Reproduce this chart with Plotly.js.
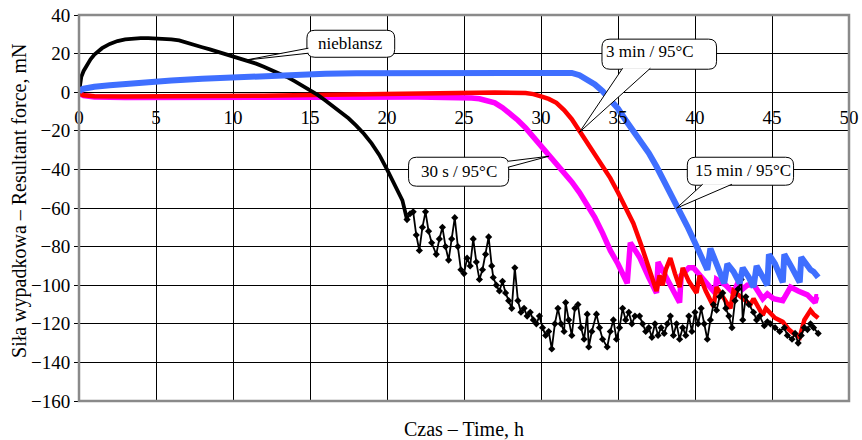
<!DOCTYPE html>
<html>
<head>
<meta charset="utf-8">
<script src="https://cdn.plot.ly/plotly-3.0.1.min.js"></script>
<style>html,body{margin:0;padding:0;background:#fff;}#chart{width:862px;height:440px;}</style>
</head>
<body>
<div id="chart"></div>
<script>
// ---- data (time in h, force in mN) ----
const timeNieblansz = [
  0, 0.05, 0.15, 0.3, 0.5, 0.75, 1, 1.5, 2, 2.5,
  3, 3.5, 4, 4.5, 5, 5.5, 6, 6.5, 7, 7.5,
  8, 8.5, 9, 9.5, 10, 10.5, 11, 11.5, 12, 12.5,
  13, 13.5, 14, 14.5, 15, 15.5, 16, 16.5, 17, 17.5,
  18, 18.5, 19, 19.5, 20, 20.5, 21, 21.3, 21.5, 21.7,
  21.9, 22.1, 22.3, 22.5, 22.7, 22.9, 23.2, 23.4, 23.6, 23.8,
  24.0, 24.2, 24.4, 24.6, 24.8, 25.0, 25.2, 25.4, 25.6, 25.8,
  26.0, 26.2, 26.4, 26.6, 26.8, 26.9, 27.1, 27.3, 27.5, 27.7,
  27.9, 28.1, 28.3, 28.5, 28.7, 28.9, 29.1, 29.3, 29.5, 29.7,
  29.9, 30.1, 30.3, 30.5, 30.7, 30.9, 31.1, 31.3, 31.5, 31.6,
  31.8, 32.0, 32.2, 32.4, 32.6, 32.8, 33.0, 33.1, 33.3, 33.6,
  33.8, 34.0, 34.3, 34.5, 34.7, 34.9, 35.1, 35.3, 35.5, 35.7,
  35.9, 36.1, 36.4, 36.6, 36.8, 37.0, 37.2, 37.4, 37.6, 37.8,
  38.0, 38.2, 38.4, 38.6, 38.8, 39.0, 39.2, 39.4, 39.6, 39.8,
  40.0, 40.2, 40.4, 40.6, 40.8, 41.0, 41.2, 41.4, 41.6, 41.8,
  42.0, 42.2, 42.4, 42.6, 42.8, 43.0, 43.1, 43.3, 43.5, 43.8,
  44.0, 44.2, 44.5, 44.7, 44.9, 45.2, 45.5, 45.8, 46.0, 46.3,
  46.5, 46.7, 46.9, 47.1, 47.3, 47.5, 47.7, 48.0
];
const forceNieblansz = [
  0, 4, 8, 11, 14, 17, 19.5, 22.8, 25, 26.5,
  27.4, 27.8, 28, 28, 27.9, 27.7, 27.4, 26.8, 25.8, 24.6,
  23.3, 22.2, 21, 19.8, 18.6, 17.4, 16.2, 14.8, 13.2, 11.6,
  9.9, 7.9, 5.7, 3.4, 1.1, -1.4, -4.3, -7.2, -10.2, -13.5,
  -17.3, -21.5, -26.5, -32.5, -40, -48.5, -56, -66, -63, -62,
  -74, -82, -70, -62, -72, -78, -84, -76, -70, -80,
  -87, -76, -65, -80, -92, -94, -86, -90, -76, -88,
  -97, -92, -84, -75, -90, -96, -100, -103, -98, -104,
  -108, -112, -91, -108, -114, -112, -116, -114, -118, -120,
  -116, -122, -126, -124, -133, -120, -112, -120, -124, -109,
  -118, -126, -112, -110, -122, -128, -115, -132, -124, -115,
  -122, -128, -132, -124, -118, -128, -122, -112, -118, -114,
  -120, -116, -116, -120, -124, -122, -127, -120, -126, -122,
  -125, -120, -116, -126, -120, -128, -122, -126, -116, -124,
  -114, -120, -112, -120, -128, -118, -110, -113, -106, -104,
  -112, -116, -122, -108, -102, -97, -118, -106, -110, -114,
  -118, -116, -121, -119, -120, -122, -124, -122, -126, -128,
  -125, -130, -126, -122, -123, -120, -122, -125
];

const time15min = [
  0, 0.1, 0.3, 0.6, 1, 2, 3, 4, 5, 6,
  8, 10, 12, 14, 16, 18, 20, 22, 25, 28,
  30, 31, 31.5, 32, 32.5, 33, 33.5, 34, 34.5, 35,
  35.5, 36, 36.5, 37, 37.5, 38, 38.5, 39, 39.5, 40,
  40.5, 40.8, 41.0, 41.5, 41.9, 42.1, 42.5, 42.9, 43.1, 43.5,
  43.8, 44.0, 44.4, 44.7, 44.8, 45.2, 45.7, 45.8, 46.3, 46.8,
  46.9, 47.3, 47.5, 47.7, 48.0
];
const force15min = [
  0, 1.2, 1.8, 2.3, 2.8, 3.6, 4.3, 5, 5.6, 6.1,
  7, 7.8, 8.5, 9.1, 9.5, 9.8, 9.9, 10, 10.2, 10.3,
  10.4, 10.4, 10.3, 10, 8.8, 6.5, 4, 0.5, -4, -8.5,
  -14.5, -20, -25.5, -31.5, -38.5, -46, -54, -61.5, -69.5, -78,
  -86, -92, -81, -90, -99, -89, -93, -99, -91, -96,
  -101, -90, -96, -100, -84, -89, -98.5, -84, -91, -98.5,
  -85.5, -90, -92, -93, -96
];

const time3min = [
  0, 0.1, 0.3, 0.6, 1, 3, 6, 9, 12, 15,
  18, 21, 24, 27, 29, 29.5, 30, 30.5, 31, 31.5,
  32, 32.5, 33, 33.5, 34, 34.5, 35, 35.5, 36, 36.5,
  37, 37.5, 37.7, 37.9, 38.1, 38.4, 38.7, 39.0, 39.2, 39.6,
  40.1, 40.3, 40.7, 41.2, 41.4, 41.8, 42.3, 42.5, 43.0, 43.6,
  43.8, 44.4, 44.6, 45.2, 45.7, 46.1, 46.4, 46.8, 47.1, 47.5,
  47.7, 48
];
const force3min = [
  0, -1, -1.6, -2, -2.1, -2.2, -2.2, -2, -1.8, -1.5,
  -1.1, -0.7, -0.4, -0.2, -0.4, -1, -2.2, -3.5, -5.5, -9.3,
  -14, -20, -26, -32, -38, -44.5, -52, -60, -68, -79,
  -91, -103, -95, -100, -92, -86, -94, -101, -91, -98,
  -104, -95, -103, -111, -101, -106, -112, -103, -106, -110,
  -107, -115.5, -112, -117, -119, -123, -125, -127, -118, -113,
  -115, -117
];

const time30s = [
  0, 0.1, 0.3, 0.6, 1, 3, 6, 10, 14, 18,
  22, 24, 25, 25.5, 26, 26.5, 27, 27.5, 28, 28.5,
  29, 29.5, 30, 30.5, 31, 31.5, 32, 32.5, 33, 33.5,
  34, 34.5, 35, 35.6, 35.8, 36.4, 37, 37.5, 37.6, 38.3,
  39.0, 39.1, 39.6, 39.9, 40.4, 41.3, 41.4, 42.0, 42.5, 42.8,
  43.1, 43.4, 43.8, 44.1, 44.4, 44.7, 45.1, 45.7, 46.0, 46.2,
  46.7, 47.3, 47.8, 47.9, 48
];
const force30s = [
  0, -1, -1.8, -2.3, -2.5, -2.7, -2.8, -2.8, -2.7, -2.6,
  -2.5, -2.5, -2.6, -3, -3.4, -4.2, -5.5, -8, -11, -14.5,
  -18.5, -23, -28, -32.8, -37, -41.5, -46.5, -52, -58.5, -65,
  -73, -82, -89, -99, -78, -85.5, -96, -104, -88, -99,
  -109, -95, -91, -91, -96, -104, -97, -100, -104, -98.5,
  -102, -100, -99.5, -104, -107, -104.5, -107, -108, -103, -101,
  -103, -105, -109, -106, -106
];

const xTickVals = [0, 5, 10, 15, 20, 25, 30, 35, 40, 45, 50];
const yTickVals = [-160, -140, -120, -100, -80, -60, -40, -20, 0, 20, 40];

const seriesLabels = ['nieblansz', '3 min / 95°C', '30 s / 95°C', '15 min / 95°C'];
const xTitle = 'Czas – Time, h';
const yTitle = 'Siła wypadkowa – Resultant force, mN';

// ---- traces ----
const FONT = '"Liberation Serif", "Times New Roman", serif';
const split = timeNieblansz.findIndex(t => t >= 21.3);

const traces = [
  {x: time30s, y: force30s, mode: 'lines', line: {color: '#FF00FF', width: 5.5}, name: seriesLabels[2]},
  {x: time3min, y: force3min, mode: 'lines', line: {color: '#FF0000', width: 4.5}, name: seriesLabels[1]},
  {x: timeNieblansz.slice(0, split + 1), y: forceNieblansz.slice(0, split + 1), mode: 'lines',
   line: {color: '#000000', width: 3.8}, name: seriesLabels[0]},
  {x: timeNieblansz.slice(split), y: forceNieblansz.slice(split), mode: 'lines+markers',
   line: {color: '#000000', width: 1.8}, marker: {symbol: 'diamond', size: 5.5, color: '#000000'}, name: seriesLabels[0]},
  {x: time15min, y: force15min, mode: 'lines', line: {color: '#3F6FFF', width: 6}, name: seriesLabels[3]},
  {x: [], y: [], xaxis: 'x2', yaxis: 'y', mode: 'lines', showlegend: false, hoverinfo: 'skip'}
];

// ---- callouts (box + wedge) ----
const RX = 0.52, RY = 4.1;
function roundRect(x0, x1, y0, y1) {
  return `M ${x0+RX},${y1} L ${x1-RX},${y1} Q ${x1},${y1} ${x1},${y1-RY} L ${x1},${y0+RY} ` +
         `Q ${x1},${y0} ${x1-RX},${y0} L ${x0+RX},${y0} Q ${x0},${y0} ${x0},${y0+RY} ` +
         `L ${x0},${y1-RY} Q ${x0},${y1} ${x0+RX},${y1} Z`;
}
function wedge(a, tip, b) {
  return `M ${a[0]},${a[1]} L ${tip[0]},${tip[1]} L ${b[0]},${b[1]}`;
}
const callouts = [
  {text: seriesLabels[0], box: [14.8, 20.5, 18.1, 32.1], a: [14.9, 22.8], tip: [10.8, 16.6], b: [14.9, 20.2], tx: 17.65, ty: 25.1},
  {text: seriesLabels[1], box: [33.96, 41.4, 11.9, 27.5], a: [35.3, 12.4], tip: [32.5, -20.7], b: [37.1, 12.4], tx: 37.1, ty: 21},
  {text: seriesLabels[2], box: [21.4, 27.9, -48.7, -33.7], a: [27.85, -35.8], tip: [30.5, -33.2], b: [27.85, -38.9], tx: 24.7, ty: -41},
  {text: seriesLabels[3], box: [39.5, 46.4, -48.2, -33.7], a: [40.5, -47.7], tip: [38.8, -60.1], b: [42.4, -47.7], tx: 43.1, ty: -40.6}
];
const shapes = [];
const annotations = [];
callouts.forEach(c => {
  shapes.push({type: 'path', xref: 'x', yref: 'y', layer: 'above', path: roundRect(...c.box),
               fillcolor: '#ffffff', line: {color: '#000000', width: 1}});
  shapes.push({type: 'path', xref: 'x', yref: 'y', layer: 'above', path: wedge(c.a, c.tip, c.b),
               fillcolor: '#ffffff', line: {color: '#000000', width: 1}});
  annotations.push({x: c.tx, y: c.ty, xref: 'x', yref: 'y', text: c.text, showarrow: false,
                    xanchor: 'center', yanchor: 'middle', font: {family: FONT, size: 17, color: '#000'}});
});
// y axis title as rotated annotation (exact placement)
annotations.push({x: -0.078, y: 0.518, xref: 'paper', yref: 'paper', text: yTitle, textangle: -90,
                  showarrow: false, xanchor: 'center', yanchor: 'middle',
                  font: {family: FONT, size: 20, color: '#000'}});
// plot frame
shapes.push({type: 'rect', xref: 'paper', yref: 'paper', x0: 0, x1: 1, y0: 0, y1: 1, layer: 'above',
             line: {color: '#8a8a8a', width: 2.5}});

const layout = {
  width: 862, height: 440,
  margin: {l: 79, r: 13, t: 15, b: 39},
  paper_bgcolor: '#ffffff', plot_bgcolor: '#ffffff',
  showlegend: false, hovermode: false,
  font: {family: FONT, size: 19, color: '#000'},
  xaxis: {
    range: [0, 50], tickvals: xTickVals, showticklabels: false, ticks: '',
    showgrid: true, gridcolor: '#000000', gridwidth: 1, zeroline: false, showline: false,
    title: {text: xTitle, font: {family: FONT, size: 20, color: '#000'}, standoff: 26}
  },
  xaxis2: {
    overlaying: 'x', anchor: 'free', position: 0.8, range: [0, 50], tickvals: xTickVals,
    showgrid: false, zeroline: false, showline: false, ticks: '',
    tickfont: {family: FONT, size: 19, color: '#000'}, ticklabelstandoff: 12
  },
  yaxis: {
    range: [-160, 40], tickvals: yTickVals, ticks: 'outside', ticklen: 4, tickcolor: '#000',
    showgrid: true, gridcolor: '#000000', gridwidth: 1,
    zeroline: true, zerolinecolor: '#000000', zerolinewidth: 1, showline: false,
    tickfont: {family: FONT, size: 19, color: '#000'}
  },
  shapes: shapes,
  annotations: annotations
};

Plotly.newPlot('chart', traces, layout, {staticPlot: true, displayModeBar: false});
</script>
</body>
</html>
